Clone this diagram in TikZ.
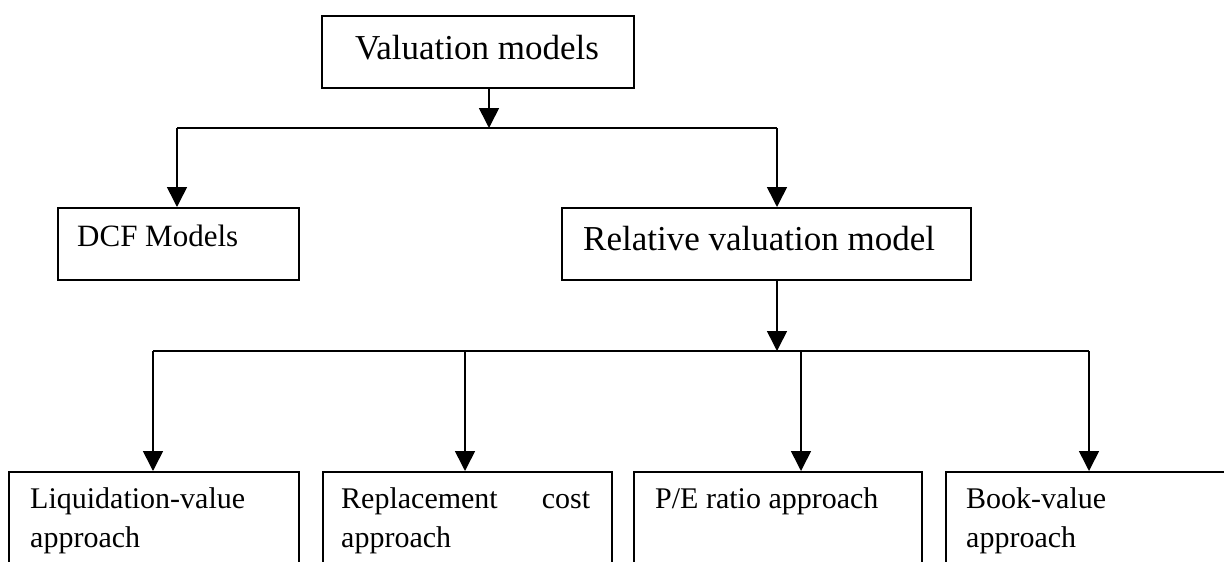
\documentclass[tikz,border=0pt]{standalone}
\usepackage{fontspec}
\setmainfont{Liberation Serif}
\usetikzlibrary{arrows.meta}
\begin{document}
\begin{tikzpicture}[x=1pt,y=-1pt,
  box/.style={draw, line width=1.6pt, rectangle, inner sep=0pt, anchor=north west},
  link/.style={line width=1.6pt},
  flow/.style={link, -{Triangle[length=20pt,width=20pt]}},
  lbl/.style={inner sep=0pt, anchor=base west},
  big/.style={font=\fontsize{35}{42}\selectfont}]
\useasboundingbox (0,0) rectangle (1224,562);
\clip (0,0) rectangle (1224,562);
\fill[white] (0,0) rectangle (1224,562);

% boxes
\node[box, minimum width=312pt, minimum height=72pt] (top) at (321,15) {};
\node[box, minimum width=241pt, minimum height=72pt] (dcf) at (57,207) {};
\node[box, minimum width=409pt, minimum height=72pt] (rel) at (561,207) {};
\node[box, minimum width=290pt, minimum height=140pt] (liq) at (8,471) {};
\node[box, minimum width=289pt, minimum height=140pt] (rep) at (322,471) {};
\node[box, minimum width=288pt, minimum height=140pt] (pe) at (633,471) {};
\node[box, minimum width=300pt, minimum height=140pt] (book) at (945,471) {};

% box texts
\node[inner sep=0pt, anchor=base, big] (ttop) at (477,59) {Valuation models};
\node[lbl, font=\fontsize{31}{37}\selectfont] (tdcf) at (77,246) {DCF Models};
\node[lbl, big] (trel) at (583,250) {Relative valuation model};
\node[lbl] (tliq) at (30,508) {\parbox[t]{250pt}{\fontsize{30}{39}\selectfont Liquidation-value\\approach}};
\node[lbl] (trep) at (341,508) {\parbox[t]{249pt}{\fontsize{30}{39}\selectfont Replacement\hfill cost\\approach}};
\node[lbl] (tpe) at (655,508) {\parbox[t]{250pt}{\fontsize{30}{39}\selectfont P/E ratio approach}};
\node[lbl] (tbook) at (966,508) {\parbox[t]{250pt}{\fontsize{30}{39}\selectfont Book-value\\approach}};

% first level bus
\coordinate (j1) at (489,128);
\coordinate (dl) at (177,128);
\coordinate (dr) at (777,128);
\draw[link] (dl) -- (dr);
\draw[flow] (top.south -| j1) -- (j1);
\draw[flow] (dl) -- (dl |- dcf.north);
\draw[flow] (dr) -- (dr |- rel.north);

% second level bus
\coordinate (j2) at (777,351);
\coordinate (k1) at (153,351);
\coordinate (k2) at (465,351);
\coordinate (k3) at (801,351);
\coordinate (k4) at (1089,351);
\draw[link] (k1) -- (k4);
\draw[flow] (rel.south -| j2) -- (j2);
\draw[flow] (k1) -- (k1 |- liq.north);
\draw[flow] (k2) -- (k2 |- rep.north);
\draw[flow] (k3) -- (k3 |- pe.north);
\draw[flow] (k4) -- (k4 |- book.north);
\end{tikzpicture}
\end{document}
